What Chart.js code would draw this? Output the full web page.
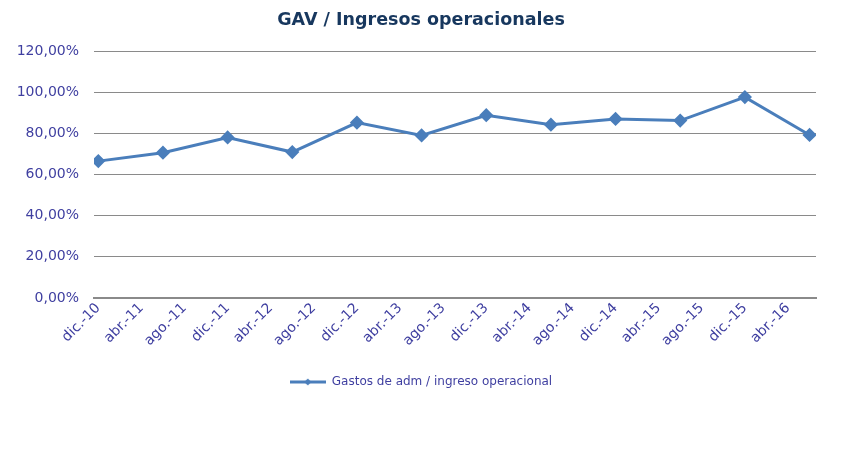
<!DOCTYPE html>
<html>
<head>
<meta charset="utf-8">
<script src="https://cdn.jsdelivr.net/npm/chart.js@4.4.1/dist/chart.umd.min.js"></script>
<style>
  html, body { margin: 0; padding: 0; background: #ffffff; }
  #wrap { width: 842px; height: 466px; }
</style>
</head>
<body>
<div id="wrap"><canvas id="chart" width="842" height="466"></canvas></div>
<script>
// x positions are months counted from dic.-10
var tickLabels = [
  "dic.-10", "abr.-11", "ago.-11", "dic.-11", "abr.-12", "ago.-12",
  "dic.-12", "abr.-13", "ago.-13", "dic.-13", "abr.-14", "ago.-14",
  "dic.-14", "abr.-15", "ago.-15", "dic.-15", "abr.-16"
];
var months = [0, 6, 12, 18, 24, 30, 36, 42, 48, 54, 60, 66];
var gastos = [66.5, 70.6, 78.0, 70.9, 85.2, 79.0, 88.8, 84.2, 87.0, 86.2, 97.6, 79.2];

var lineColor = "#4a7ebb";
var textColor = "#3f3fa0";
var gridColor = "#8a8a8a";

// legend symbol: short line with a small diamond in the middle
var legendIcon = document.createElement("canvas");
legendIcon.width = 36;
legendIcon.height = 10;
(function () {
  var c = legendIcon.getContext("2d");
  c.strokeStyle = lineColor;
  c.lineWidth = 3;
  c.beginPath();
  c.moveTo(0, 5);
  c.lineTo(36, 5);
  c.stroke();
  c.fillStyle = lineColor;
  c.beginPath();
  c.moveTo(18, 1.5);
  c.lineTo(21.5, 5);
  c.lineTo(18, 8.5);
  c.lineTo(14.5, 5);
  c.closePath();
  c.fill();
})();

var points = months.map(function (m, i) {
  return { x: m, y: gastos[i] };
});

Chart.defaults.font.family = "'DejaVu Sans', Verdana, sans-serif";

new Chart(document.getElementById("chart"), {
  type: "line",
  data: {
    datasets: [
      {
        label: "Gastos de adm / ingreso operacional",
        data: points,
        borderColor: lineColor,
        backgroundColor: lineColor,
        borderWidth: 3,
        pointStyle: "rectRot",
        pointRadius: 5,
        pointHoverRadius: 5,
        pointBackgroundColor: lineColor,
        pointBorderColor: lineColor,
        tension: 0,
      },
    ],
  },
  options: {
    responsive: false,
    animation: false,
    layout: { padding: { left: 0, right: 0, top: 0, bottom: 68 } },
    plugins: {
      title: {
        display: true,
        text: "GAV / Ingresos operacionales",
        color: "#17375e",
        font: { size: 17.5, weight: "bold" },
        padding: { top: 10, bottom: 20 },
      },
      legend: {
        position: "bottom",
        labels: {
          color: textColor,
          font: { size: 12 },
          usePointStyle: true,
          pointStyleWidth: 36,
          boxHeight: 10,
          padding: 6,
          generateLabels: function (chart) {
            return [
              {
                text: chart.data.datasets[0].label,
                pointStyle: legendIcon,
                fontColor: textColor,
                lineWidth: 0,
                strokeStyle: "transparent",
                datasetIndex: 0,
              },
            ];
          },
        },
      },
      tooltip: { enabled: false },
    },
    scales: {
      x: {
        type: "linear",
        min: -0.4,
        max: 66.6,
        afterBuildTicks: function (scale) {
          scale.ticks = tickLabels.map(function (l, i) {
            return { value: i * 4 };
          });
        },
        afterFit: function (scale) {
          scale.height = 72;
        },
        ticks: {
          autoSkip: false,
          maxRotation: 45,
          minRotation: 45,
          color: textColor,
          font: { size: 14 },
          padding: 2,
          callback: function (v) {
            return tickLabels[Math.round(v / 4)];
          },
        },
        grid: { display: false, drawTicks: false },
        border: { display: true, color: gridColor, width: 2 },
      },
      y: {
        min: 0,
        max: 120,
        afterFit: function (scale) {
          scale.width = 94;
        },
        ticks: {
          stepSize: 20,
          color: textColor,
          font: { size: 14 },
          padding: 15,
          callback: function (v) {
            return v.toFixed(2).replace(".", ",") + "%";
          },
        },
        grid: { color: gridColor, lineWidth: 1, drawTicks: false },
        border: { display: false },
      },
      // empty spacer on the right so the plot ends where the reference does
      spacer: {
        position: "right",
        min: 0,
        max: 120,
        afterFit: function (scale) {
          scale.width = 26;
        },
        ticks: { display: false },
        grid: { display: false, drawTicks: false },
        border: { display: false },
      },
    },
  },
});
</script>
</body>
</html>
